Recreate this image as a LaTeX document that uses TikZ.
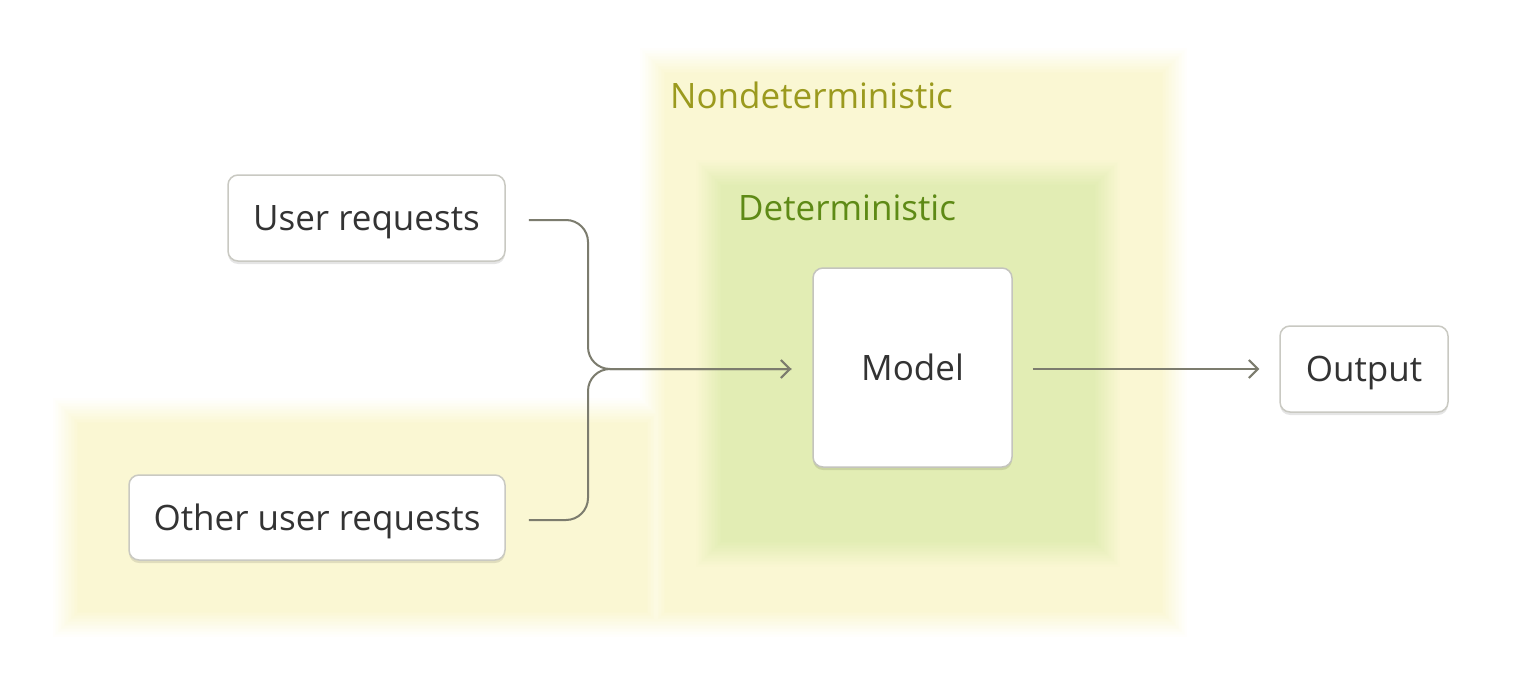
\documentclass[tikz,border=0pt]{standalone}
\usepackage{fontspec}
\setmainfont{Open Sans}
\usetikzlibrary{arrows.meta,shadows,calc}
\definecolor{ylw}{HTML}{FAF7D3}
\definecolor{grn}{HTML}{E2EDB4}
\definecolor{ndtxt}{HTML}{9B9A1E}
\definecolor{dtxt}{HTML}{5E8A16}
\definecolor{conncol}{HTML}{7C7C6E}
\definecolor{txt}{HTML}{333333}
\definecolor{boxline}{HTML}{C9C9C2}
\tikzset{
  reqbox/.style={draw=boxline, line width=1.5pt, fill=white, rounded corners=10pt,
    inner sep=0pt, text=txt, font=\fontsize{35}{40}\selectfont,
    text height=25pt, text depth=0pt,
    drop shadow={shadow xshift=0pt, shadow yshift=-3pt, opacity=0.10, fill=black}},
  conn/.style={draw=conncol, line width=2pt, rounded corners=22pt},
  tip/.style={-{Straight Barb[length=9pt,width=18pt,line width=2pt]}},
  regionlabel/.style={anchor=west, inner sep=0pt, font=\fontsize{35}{40}\selectfont},
}
\begin{document}
\begin{tikzpicture}[x=1pt,y=-1pt]
\useasboundingbox (0,0) rectangle (1523,693);
\fill[white] (0,0) rectangle (1523,693);
% soft yellow region (L shape)
\foreach \k in {0,...,18}{
  \pgfmathsetmacro{\e}{13-26*\k/18}
  \pgfmathsetmacro{\p}{100*\k/18}
  \fill[ylw!\p!white] (652-\e,60-\e) rectangle (1175+\e,625+\e);
  \fill[ylw!\p!white] (65-\e,410-\e) rectangle (660+\e,625+\e);
}
% soft green region
\foreach \k in {0,...,18}{
  \pgfmathsetmacro{\e}{13-26*\k/18}
  \pgfmathsetmacro{\p}{100*\k/18}
  \fill[grn!\p!ylw] (708-\e,172-\e) rectangle (1108+\e,555+\e);
}
\node[regionlabel, text=ndtxt] (nd) at (670,95) {Nondeterministic};
\node[regionlabel, text=dtxt] (dt) at (738,208) {Deterministic};
% boxes
\node[reqbox, minimum width=277pt, minimum height=86pt] (u) at (366.5,218) {User requests};
\node[reqbox, minimum width=376pt, minimum height=85pt] (o) at (317,517.5) {Other user requests};
\node[reqbox, draw=conncol!45, minimum width=199pt, minimum height=199pt] (m) at (912.5,367.5) {Model};
\node[reqbox, minimum width=168pt, minimum height=86pt] (out) at (1364,369) {Output};
% connectors
\coordinate (us) at ($(u.east)+(23,2)$);
\coordinate (os) at ($(o.east)+(23,2.5)$);
\coordinate (me) at ($(m.west)+(-21,1.5)$);
\draw[conn, tip] (us) -- (588,220) -- (588,369) -- (me);
\draw[conn] (os) -- (588,520) -- (588,369) -- (me);
\draw[conn, tip] ($(m.east)+(20,1.5)$) coordinate (ms) -- ($(out.west)+(-20,0)$) coordinate (oe);
\end{tikzpicture}
\end{document}
